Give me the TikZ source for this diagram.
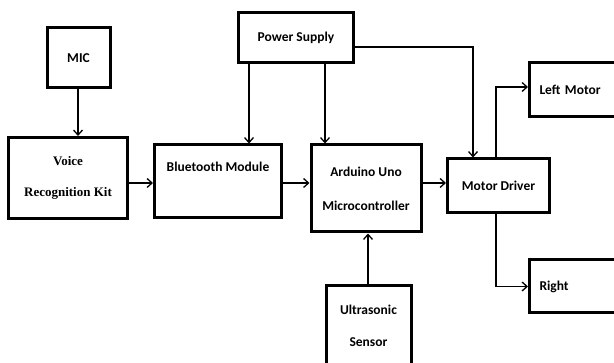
\documentclass[tikz,border=0pt]{standalone}
\usepackage{fontspec}
\setmainfont{Carlito}
\newfontfamily\voicefont{Liberation Serif}
\usetikzlibrary{arrows.meta}
\begin{document}
\begin{tikzpicture}[x=1pt,y=-1pt,
  blk/.style={draw=black,line width=3pt,rectangle,inner sep=0pt,font=\bfseries\fontsize{13.5}{15}\selectfont,align=center},
  conn/.style={line width=1.3pt,-{Straight Barb[length=5pt,width=9pt,line width=1.3pt]}}]
\useasboundingbox (0,0) rectangle (614,363);
\node[blk,minimum width=63pt,minimum height=60pt] (mic) at (78.5,58) {MIC};
\node[blk,minimum width=119pt,minimum height=81pt,font=\voicefont\bfseries\fontsize{13}{31}\selectfont] (voice) at (68,178) {Voice\\Recognition Kit};
\node[blk,minimum width=127pt,minimum height=73pt] (bt) at (218,181.5) {Bluetooth Module\\[14pt]};
\node[blk,minimum width=115pt,minimum height=50pt] (ps) at (296,38) {Power Supply};
\node[blk,minimum width=110pt,minimum height=87pt,font=\bfseries\fontsize{13.5}{34}\selectfont] (ard) at (366,188.5) {Arduino Uno\\Microcontroller};
\node[blk,minimum width=102pt,minimum height=54pt] (md) at (498.5,186) {Motor Driver};
\node[blk,anchor=west,minimum height=54pt,text width=80pt,align=left,inner xsep=10pt] (lm) at (528,90) {Left Motor};
\node[blk,anchor=west,minimum height=53pt,text width=80pt,align=left,inner xsep=10pt] (rt) at (528,286.5) {Right};
\node[blk,anchor=north,minimum width=85pt,minimum height=80pt,font=\bfseries\fontsize{13.5}{32}\selectfont] (us) at (368.5,284) {Ultrasonic\\Sensor};
\draw[conn] (mic.south -| 78,0) -- (voice.north -| 78,0);
\draw[conn] (voice.east |- 0,183) -- (bt.west |- 0,183);
\draw[conn] (bt.east |- 0,183) -- (ard.west |- 0,183);
\draw[conn] (ard.east |- 0,183) -- (md.west |- 0,183);
\draw[conn] (ps.south -| 249,0) -- (bt.north -| 249,0);
\draw[conn] (ps.south -| 325,0) -- (ard.north -| 325,0);
\draw[conn] (ps.east |- 0,47) -| (md.north -| 473,0);
\draw[conn] (md.north -| 496,0) |- (lm.west |- 0,87);
\draw[conn] (md.south -| 496,0) |- (rt.west);
\draw[conn] (us.north -| 368,0) -- (ard.south -| 368,0);
\end{tikzpicture}
\end{document}
